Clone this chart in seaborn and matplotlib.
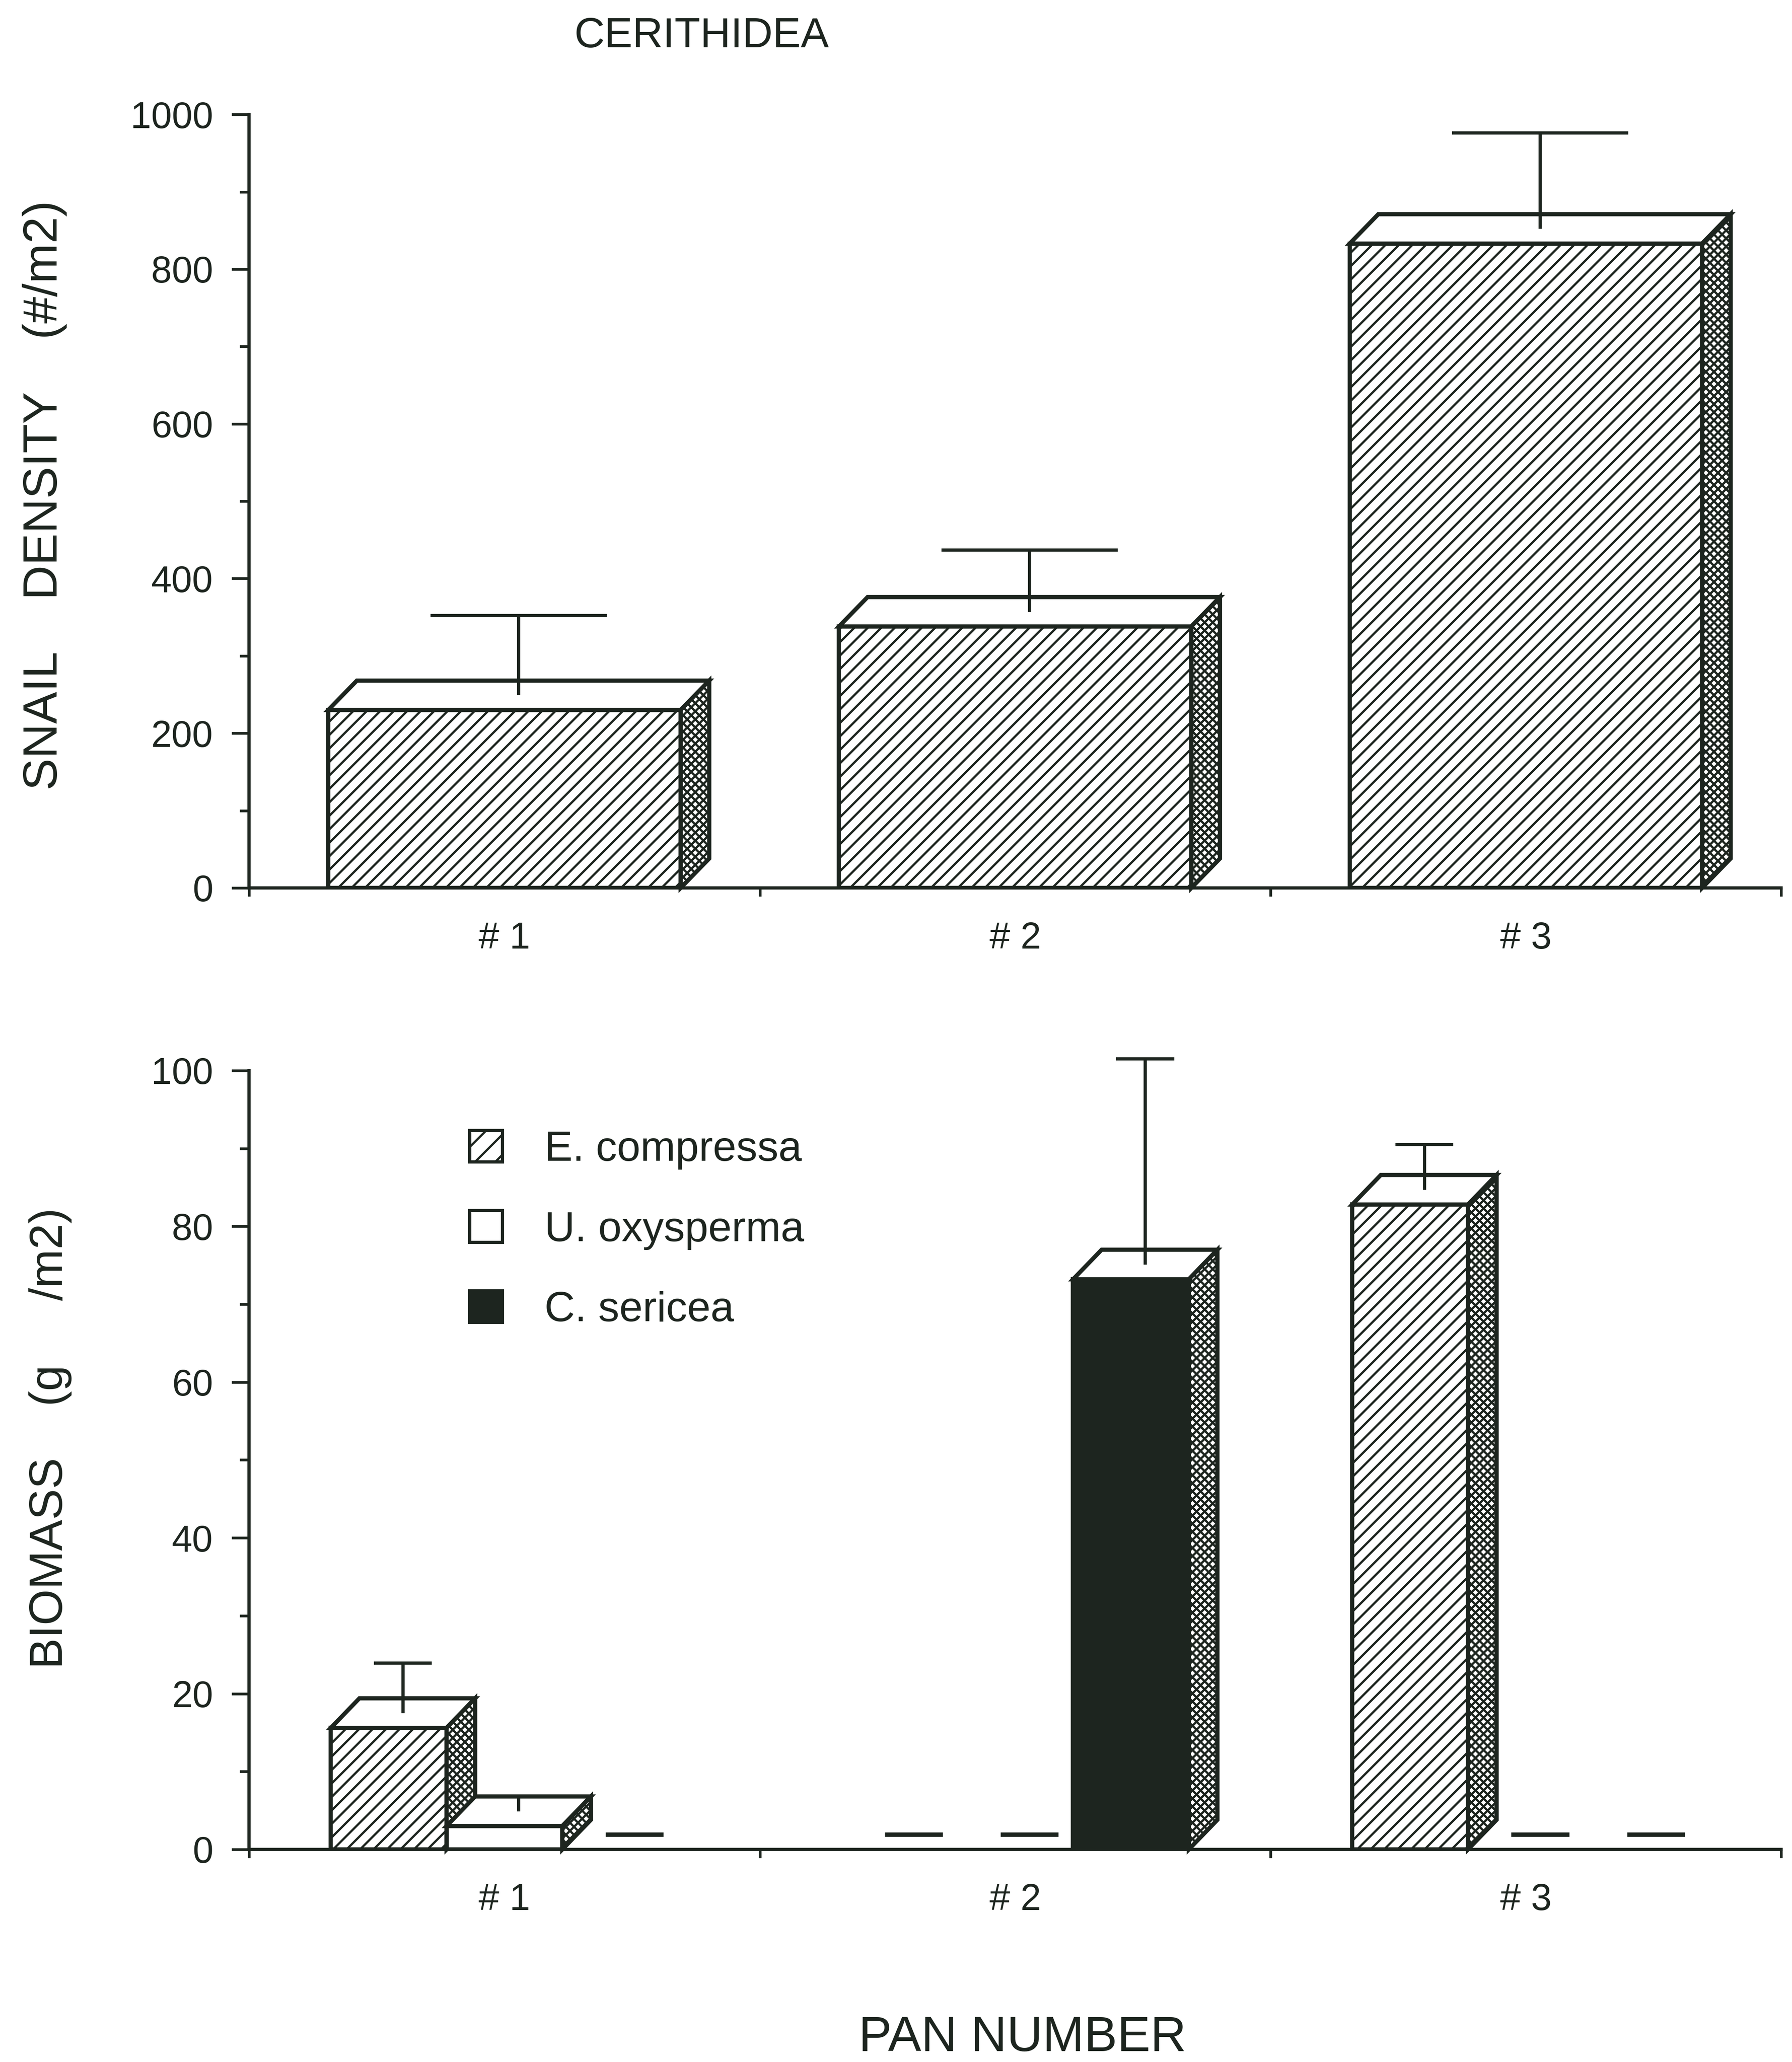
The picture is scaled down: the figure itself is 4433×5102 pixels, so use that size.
import matplotlib
matplotlib.use("Agg")
import matplotlib.pyplot as plt
import numpy as np
import pandas as pd
import seaborn as sns
from matplotlib.patches import Polygon, Patch
from matplotlib.ticker import MultipleLocator

# ---------------- data ----------------
pans = ["# 1", "# 2", "# 3"]

snail_density = [230, 338, 833]
snail_se = [103, 80, 124]

species = ["E. compressa", "U. oxysperma", "C. sericea"]
biomass_e_compressa = [15.6, 0.0, 82.8]
biomass_u_oxysperma = [3.0, 0.0, 0.0]
biomass_c_sericea = [0.0, 73.2, 0.0]
se_e_compressa = [6.4, 0.0, 5.8]
se_u_oxysperma = [1.9, 0.0, 0.0]
se_c_sericea = [0.0, 26.4, 0.0]

# ---------------- style ----------------
INK = "#1d251f"
sns.set_theme(style="white")
plt.rcParams["font.family"] = ["Liberation Sans", "DejaVu Sans"]
plt.rcParams["hatch.linewidth"] = 1.3
plt.rcParams["hatch.color"] = INK

W, H, DPI = 4433, 5102, 300
fig = plt.figure(figsize=(W / DPI, H / DPI), dpi=DPI)
fig.patch.set_facecolor("white")
ax1 = fig.add_axes([0.139, 0.5694, 0.855, 0.3751])
ax2 = fig.add_axes([0.139, 0.1031, 0.855, 0.3777])

LW = 2.5

# ---------------- top panel ----------------
df_top = pd.DataFrame({"pan": pans, "density": snail_density})
sns.barplot(data=df_top, x="pan", y="density", order=pans, width=0.69,
            color="white", saturation=1, edgecolor=INK, linewidth=LW,
            errorbar=None, ax=ax1)

# ---------------- bottom panel ----------------
bio_vals = [biomass_e_compressa, biomass_u_oxysperma, biomass_c_sericea]
bio_ses = [se_e_compressa, se_u_oxysperma, se_c_sericea]
rows = []
for sp, vals, ses in zip(species, bio_vals, bio_ses):
    for p, v, s in zip(pans, vals, ses):
        rows.append({"pan": p, "species": sp, "biomass": v, "se": s})
df_bot = pd.DataFrame(rows)
palette = {"E. compressa": "white", "U. oxysperma": "white", "C. sericea": INK}
sns.barplot(data=df_bot, x="pan", y="biomass", hue="species", order=pans,
            hue_order=species, palette=palette, saturation=1, width=0.68,
            edgecolor=INK, linewidth=LW, errorbar=None, legend=False, ax=ax2)

front_hatch = {"E. compressa": "///", "U. oxysperma": "", "C. sericea": ""}


def make_3d(ax, bars, dx, dy):
    """bars: list of (patch, hatch, se)"""
    bars = sorted(bars, key=lambda b: b[0].get_x())
    for i, (p, hatch, se) in enumerate(bars):
        z = 3 + i * 0.1
        x0 = p.get_x()
        w = p.get_width()
        h = p.get_height()
        x1 = x0 + w
        xc = x0 + w / 2
        if h > 0:
            p.set_zorder(z)
            p.set_hatch(hatch)
            p.set_linewidth(LW)
            p.set_edgecolor(INK)
            top = Polygon([(x0, h), (x1, h), (x1 + dx, h + dy), (x0 + dx, h + dy)],
                          closed=True, facecolor="white", edgecolor=INK,
                          linewidth=LW, joinstyle="miter", zorder=z + 0.01,
                          clip_on=False)
            side = Polygon([(x1, 0), (x1 + dx, dy), (x1 + dx, h + dy), (x1, h)],
                           closed=True, facecolor="white", edgecolor=INK,
                           hatch="xxxxx", linewidth=LW, joinstyle="miter",
                           zorder=z + 0.02, clip_on=False)
            ax.add_patch(top)
            ax.add_patch(side)
            if se > 0:
                ex = xc + dx / 2
                y0 = h + dy / 2
                ax.vlines(ex, y0, y0 + se, colors=INK, linewidth=1.9,
                          zorder=z + 0.05, clip_on=False)
                ax.hlines(y0 + se, ex - w / 4, ex + w / 4, colors=INK,
                          linewidth=1.9, zorder=z + 0.05, clip_on=False)
        else:
            p.set_visible(False)
            ex = xc + dx / 2
            ax.hlines(dy / 2, ex - w / 4, ex + w / 4, colors=INK,
                      linewidth=2.6, zorder=z + 0.05)


# top bars
top_bars = []
for p, se in zip(ax1.containers[0].patches, snail_se):
    top_bars.append((p, "///", se))
make_3d(ax1, top_bars, 0.056, 38.0)

# bottom bars
bot_bars = []
for sp, cont, ses in zip(species, ax2.containers, bio_ses):
    for p, se in zip(cont.patches, ses):
        bot_bars.append((p, front_hatch[sp], se))
make_3d(ax2, bot_bars, 0.056, 3.8)

# ---------------- axes cosmetics ----------------
for ax, ymax, major, minor in [(ax1, 1000, 200, 100), (ax2, 100, 20, 10)]:
    ax.set_xlim(-0.5, 2.5)
    ax.set_ylim(0, ymax)
    ax.set_xlabel("")
    ax.set_ylabel("")
    ax.set_facecolor("white")
    for s in ["top", "right"]:
        ax.spines[s].set_visible(False)
    for s in ["left", "bottom"]:
        ax.spines[s].set_color(INK)
        ax.spines[s].set_linewidth(1.9)
        ax.spines[s].set_zorder(10)
    ax.set_xticks([0, 1, 2])
    ax.set_xticklabels(pans)
    ax.set_xticks([-0.5, 0.5, 1.5, 2.5], minor=True)
    ax.tick_params(axis="x", which="major", length=0, pad=20, labelsize=22,
                   labelcolor=INK, bottom=True)
    ax.tick_params(axis="x", which="minor", length=5, width=1.6,
                   direction="out", color=INK, bottom=True)
    ax.yaxis.set_major_locator(MultipleLocator(major))
    ax.yaxis.set_minor_locator(MultipleLocator(minor))
    ax.tick_params(axis="y", which="major", length=10.4, width=1.6, pad=11,
                   labelsize=22, direction="out", color=INK, labelcolor=INK,
                   left=True)
    ax.tick_params(axis="y", which="minor", length=5.5, width=1.6,
                   direction="out", color=INK, left=True)

# ---------------- legend ----------------
handles = [
    Patch(facecolor="white", edgecolor=INK, hatch="//", linewidth=1.9, label=species[0]),
    Patch(facecolor="white", edgecolor=INK, linewidth=1.9, label=species[1]),
    Patch(facecolor=INK, edgecolor=INK, linewidth=1.9, label=species[2]),
]
leg = ax2.legend(handles=handles, loc="center left", bbox_to_anchor=(0.144, 0.795),
                 frameon=False, fontsize=25, handlelength=0.78, handleheight=0.78,
                 handletextpad=1.0, labelspacing=0.97, borderpad=0,
                 borderaxespad=0)
for t in leg.get_texts():
    t.set_color(INK)

# ---------------- texts ----------------
fig.text(0.3916, 0.9822, "CERITHIDEA", ha="center", va="center",
         fontsize=25, color=INK)
fig.text(0.025, 0.7598, "SNAIL    DENSITY    (#/m2)", rotation=90,
         ha="center", va="center", fontsize=28.5, color=INK)
fig.text(0.028, 0.3025, "BIOMASS    (g     /m2)", rotation=90,
         ha="center", va="center", fontsize=27.5, color=INK)
fig.text(0.5705, 0.0115, "PAN NUMBER", ha="center", va="center",
         fontsize=29.5, color=INK)

fig.savefig("out.png", dpi=DPI, facecolor="white")
